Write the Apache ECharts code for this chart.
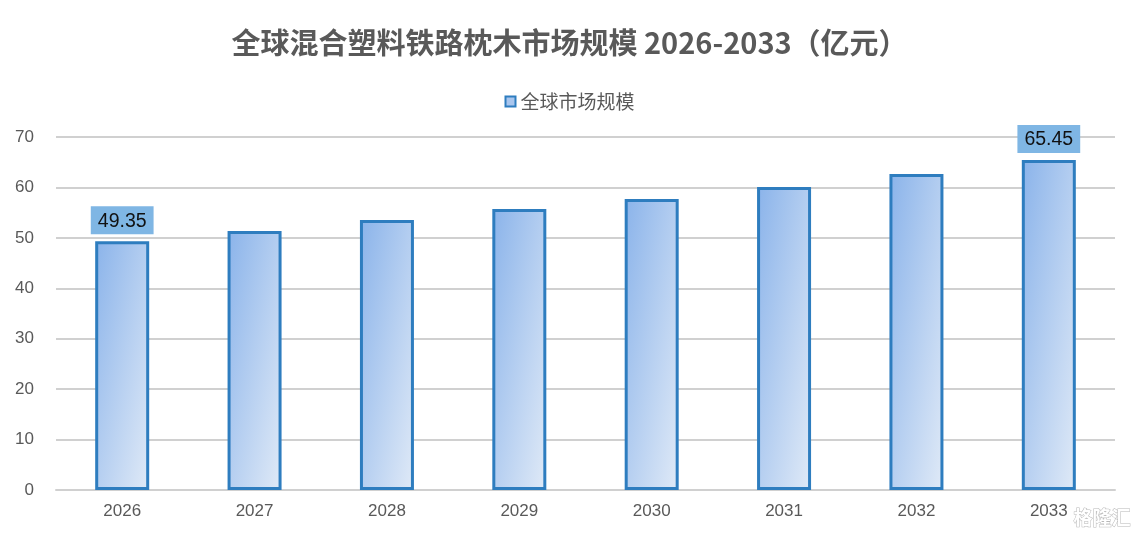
<!DOCTYPE html>
<html>
<head>
<meta charset="utf-8">
<script src="https://cdn.jsdelivr.net/npm/echarts@6/dist/echarts.min.js"></script>
<style>
	html, body { margin: 0; padding: 0; background: #fff; }
	#chart { width: 1139px; height: 536px; }
</style>
</head>
<body>
<div id="chart"></div>
<script>
var years = ['2026', '2027', '2028', '2029', '2030', '2031', '2032', '2033'];
var marketSize = [49.35, 51.36, 53.54, 55.72, 57.7, 60.08, 62.66, 65.45];
var labelIndexes = [0, 7];

var BAR_W = 54;
var chart = echarts.init(document.getElementById('chart'));

// 45 degree gradient in pixel space, needs the bar height
function barGradient(h) {
	var w = BAR_W;
	var s = h * h + w * w;
	return new echarts.graphic.LinearGradient(0, 0, 2 * h * h / s, 2 * w * w / s, [
		{ offset: 0, color: '#8ab3ea' },
		{ offset: 1, color: '#e0eaf7' }
	]);
}

function buildData(heights) {
	return marketSize.map(function(v, i) {
		var item = { value: v };
		if (heights) {
			item.itemStyle = { color: barGradient(heights[i]) };
		}
		if (labelIndexes.indexOf(i) >= 0) {
			item.label = {
				show: true,
				position: 'top',
				distance: 7,
				color: '#111',
				fontSize: 19.5,
				fontFamily: 'Arial, Liberation Sans',
				backgroundColor: '#7fb6e4',
				padding: [5, 7, 3, 7],
				formatter: function(p) { return p.value.toFixed(2); }
			};
		}
		return item;
	});
}

var option = {
	title: {
		text: '全球混合塑料铁路枕木市场规模 2026-2033（亿元）',
		left: 'center',
		top: 23,
		textStyle: {
			fontFamily: 'Noto Sans CJK SC',
			fontSize: 29,
			fontWeight: 'bold',
			color: '#595959'
		}
	},
	legend: {
		top: 87,
		left: 'center',
		icon: 'rect',
		itemWidth: 10,
		itemHeight: 10,
		itemGap: 4,
		textStyle: { fontFamily: 'Noto Sans CJK SC', fontSize: 19, color: '#595959' },
		data: ['全球市场规模']
	},
	grid: { left: 56, right: 24, top: 137, bottom: 46 },
	xAxis: {
		type: 'category',
		data: years,
		axisLine: { lineStyle: { color: '#d0d0d0', width: 2 } },
		axisTick: { show: false },
		axisLabel: { color: '#595959', fontSize: 17, fontFamily: 'Arial, Liberation Sans', margin: 13 }
	},
	yAxis: {
		type: 'value',
		min: 0,
		max: 70,
		interval: 10,
		axisLine: { show: false },
		axisTick: { show: false },
		splitLine: { lineStyle: { color: '#d0d0d0', width: 2 } },
		axisLabel: { color: '#595959', fontSize: 17, fontFamily: 'Arial, Liberation Sans', margin: 22 }
	},
	series: [{
		name: '全球市场规模',
		type: 'bar',
		barWidth: BAR_W,
		data: buildData(null),
		itemStyle: {
			color: '#a9c6ee',
			borderColor: '#2e7dbf',
			borderWidth: 3
		}
	}],
	graphic: [{
		type: 'text',
		right: 8,
		bottom: 8,
		style: {
			text: '格隆汇',
			fontSize: 19,
			fontWeight: 'bold',
			fill: '#ffffff',
			stroke: '#b8b8b8',
			lineWidth: 1,
			fontFamily: 'Noto Sans CJK SC'
		}
	}]
};

chart.setOption(option);

// now the axis exists: measure bar heights through its scale
var zeroY = chart.convertToPixel({ yAxisIndex: 0 }, 0);
var heights = marketSize.map(function(v) {
	return zeroY - chart.convertToPixel({ yAxisIndex: 0 }, v);
});
chart.setOption({ series: [{ data: buildData(heights) }] });
</script>
</body>
</html>
